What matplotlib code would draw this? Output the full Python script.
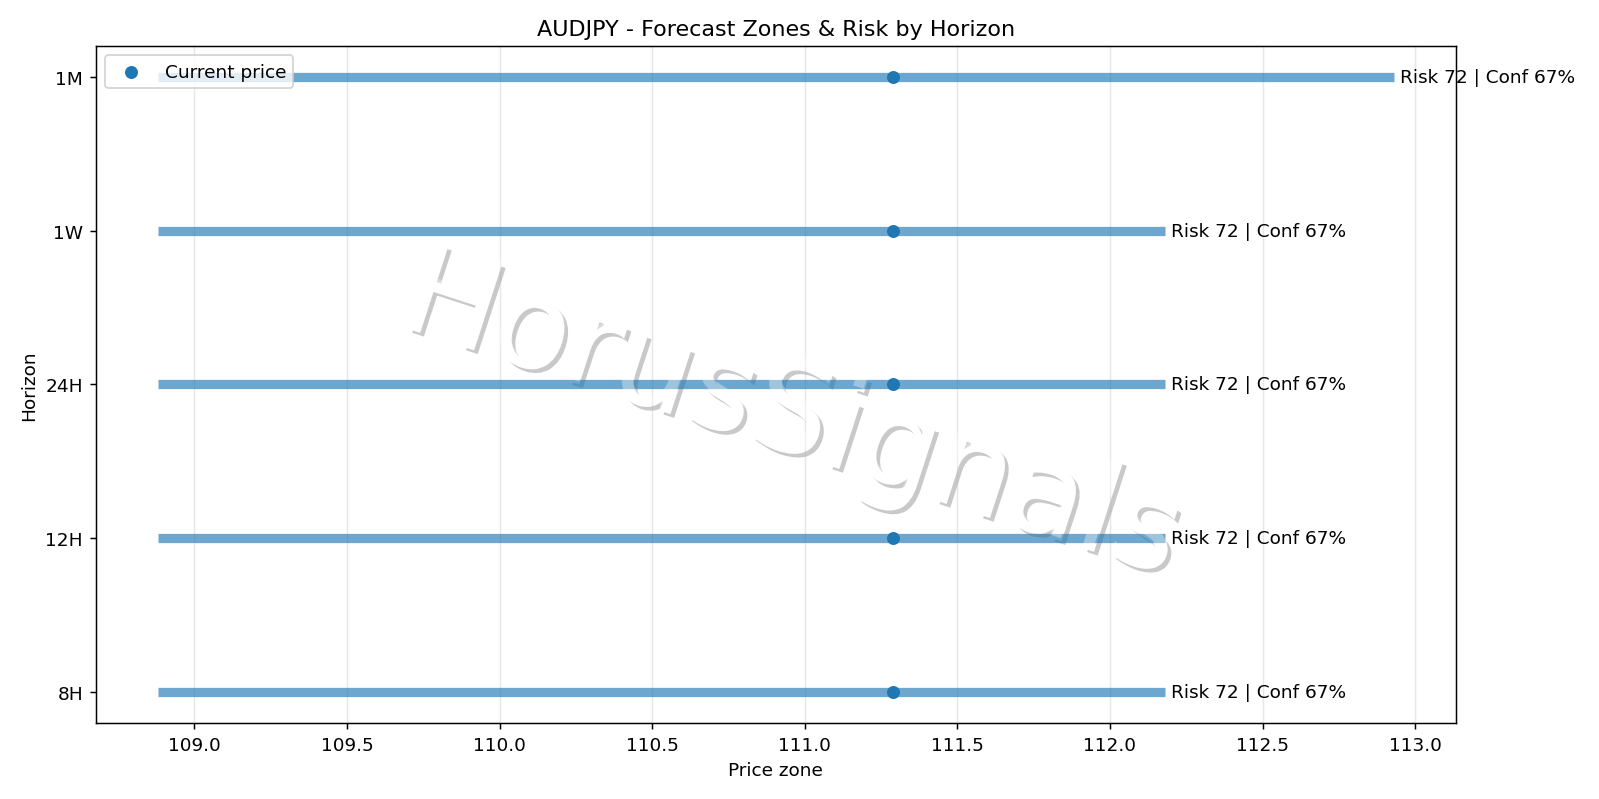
import matplotlib.pyplot as plt
import matplotlib.patheffects as pe

# Forecast zones per horizon
horizons = ["8H", "12H", "24H", "1W", "1M"]
zone_low = [108.88, 108.88, 108.88, 108.88, 108.88]
zone_high = [112.18, 112.18, 112.18, 112.18, 112.93]
current_price = [111.29, 111.29, 111.29, 111.29, 111.29]
risk = [72, 72, 72, 72, 72]
conf = [67, 67, 67, 67, 67]

fig, ax = plt.subplots(figsize=(12, 6), dpi=133.33)

ypos = list(range(len(horizons)))
ax.hlines(ypos, zone_low, zone_high, linewidth=5, alpha=0.65)
ax.scatter(current_price, ypos, zorder=3, label="Current price")

for y, hi, r, c in zip(ypos, zone_high, risk, conf):
    ax.text(hi + 0.02, y, f"Risk {r} | Conf {c}%", va="center")

ax.set_yticks(ypos)
ax.set_yticklabels(horizons)
ax.set_xlabel("Price zone")
ax.set_ylabel("Horizon")
ax.set_title("AUDJPY - Forecast Zones & Risk by Horizon")
ax.grid(axis="x", alpha=0.3)
ax.legend(loc="upper left")

# watermark: shadowed white text under the bars, light white glaze on top
wm = dict(fontsize=67, rotation=-18, ha="center", va="center",
          transform=fig.transFigure)
ax.text(0.495, 0.477, "HorusSignals", color="white", zorder=1,
        path_effects=[pe.SimplePatchShadow(offset=(2, -2), alpha=0.3),
                      pe.Normal()], **wm)
ax.text(0.495, 0.477, "HorusSignals", color="white", alpha=0.35, zorder=2.5,
        **wm)

fig.tight_layout()
fig.savefig("out.png")
